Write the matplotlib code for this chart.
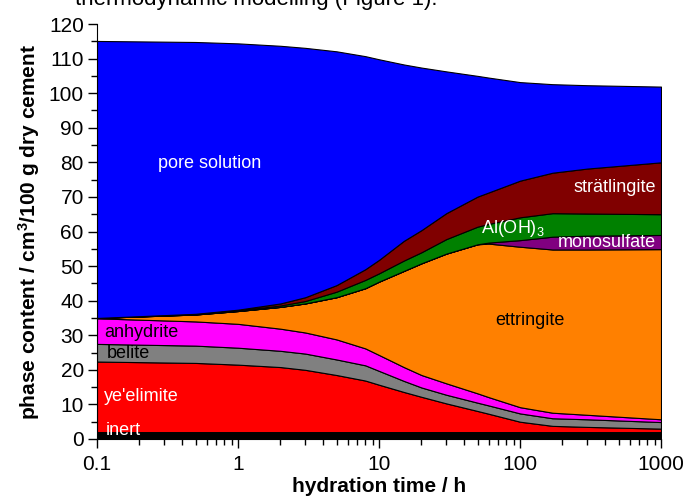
import numpy as np
import matplotlib
matplotlib.use("Agg")
import matplotlib.pyplot as plt
from matplotlib.ticker import MultipleLocator, LogLocator, NullFormatter

plt.rcParams['font.family'] = ['Liberation Sans', 'DejaVu Sans']
plt.rcParams['mathtext.fontset'] = 'custom'
plt.rcParams['mathtext.rm'] = 'Liberation Sans'
plt.rcParams['mathtext.bf'] = 'Liberation Sans:bold'
plt.rcParams['mathtext.default'] = 'regular'

# hydration time / h
time_h = [0.1, 0.5, 1, 2, 3, 5, 8, 10, 15, 20, 30, 50, 60, 100, 170, 300, 1000]

# phase volumes / cm3 per 100 g dry cement
inert = [2.0] * 17
yeelimite = [20.4, 20.0, 19.5, 18.8, 18.0, 16.5, 14.9, 13.7, 11.6, 10.2, 8.3, 6.1, 5.3, 3.0, 1.8, 1.5, 1.0]
belite = [5.1, 5.0, 4.9, 4.7, 4.7, 4.5, 4.4, 4.0, 3.2, 2.7, 2.5, 2.4, 2.4, 2.4, 2.2, 2.2, 1.9]
anhydrite = [7.4, 7.0, 6.9, 6.4, 6.1, 5.8, 4.9, 4.6, 4.0, 3.6, 3.3, 2.7, 2.4, 1.8, 1.6, 1.3, 0.8]
ettringite = [0.1, 2.0, 3.7, 6.3, 8.4, 12.2, 17.4, 21.2, 27.8, 32.3, 37.5, 43.1, 44.4, 46.4, 47.2, 47.8, 49.2]
monosulfate = [0, 0, 0, 0, 0, 0, 0, 0, 0, 0, 0, 0, 0.3, 1.9, 3.7, 4.0, 4.1]
aloh3 = [0.0, 0.1, 0.2, 0.4, 0.7, 1.6, 2.4, 2.4, 3.0, 3.2, 4.2, 5.1, 5.4, 6.6, 6.8, 6.4, 6.0]
stratlingite = [0.0, 0.1, 0.2, 0.6, 1.1, 1.9, 3.1, 3.9, 5.7, 6.4, 7.5, 8.7, 9.1, 10.6, 11.7, 13.0, 15.0]
pore_solution = [80.1, 78.6, 77.0, 74.5, 72.1, 67.6, 61.6, 58.0, 51.0, 47.0, 41.0, 34.9, 33.2, 28.5, 25.6, 24.1, 21.9]

colors = ['#000000', '#ff0000', '#808080', '#ff00ff', '#ff8000',
          '#800080', '#008000', '#800000', '#0000ff']

fig = plt.figure(figsize=(6.88, 5.03), dpi=100)
ax = fig.add_axes([97 / 688, 1 - 439 / 503, (661 - 97) / 688, (439 - 24) / 503])

ax.stackplot(time_h, inert, yeelimite, belite, anhydrite, ettringite, monosulfate,
             aloh3, stratlingite, pore_solution, colors=colors,
             edgecolor='black', linewidth=0.8)

ax.set_xscale('log')
ax.set_xlim(0.1, 1000)
ax.set_ylim(0, 120)
ax.yaxis.set_major_locator(MultipleLocator(10))
ax.yaxis.set_minor_locator(MultipleLocator(5))
ax.xaxis.set_minor_locator(LogLocator(base=10, subs=np.arange(2, 10)))
ax.xaxis.set_minor_formatter(NullFormatter())
ax.set_xticks([0.1, 1, 10, 100, 1000])
ax.set_xticklabels(['0.1', '1', '10', '100', '1000'])

for s in ['top', 'right']:
    ax.spines[s].set_visible(False)
ax.tick_params(which='both', direction='out', labelsize=15)
ax.tick_params(which='major', length=6.5, width=1, pad=3)
ax.tick_params(which='minor', length=4, width=1)
ax.tick_params(axis='x', which='major', pad=5)

ax.set_xlabel('hydration time / h', fontsize=15, fontweight='bold', labelpad=2)
ax.set_ylabel('phase content / cm$^3$/100 g dry cement', fontsize=15,
              fontweight='bold', labelpad=5)

lab = dict(fontsize=13)
ax.text(0.63, 79.8, 'pore solution', color='white', ha='center', va='center', **lab)
ax.text(920, 72.6, 'strätlingite', color='white', ha='right', va='center', **lab)
ax.text(53, 61.0, 'Al(OH)$_3$', color='white', ha='left', va='center', **lab)
ax.text(920, 56.7, 'monosulfate', color='white', ha='right', va='center', **lab)
ax.text(118, 34.4, 'ettringite', color='black', ha='center', va='center', **lab)
ax.text(0.112, 30.9, 'anhydrite', color='black', ha='left', va='center', **lab)
ax.text(0.118, 24.6, 'belite', color='black', ha='left', va='center', **lab)
ax.text(0.112, 12.4, "ye'elimite", color='white', ha='left', va='center', **lab)
ax.text(0.115, 2.6, 'inert', color='white', ha='left', va='center', **lab)

fig.text(75 / 688, 1 - 5 / 503, 'thermodynamic modelling (Figure 1).',
         fontsize=16, ha='left', va='baseline')

fig.savefig('out.png', dpi=100)
